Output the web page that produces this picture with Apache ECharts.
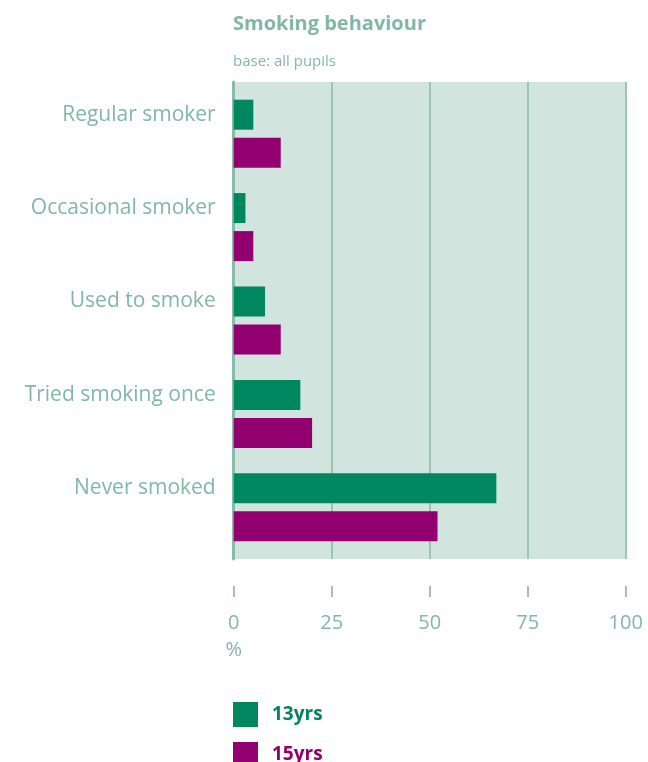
<!DOCTYPE html>
<html>
<head>
<meta charset="utf-8">
<script src="https://cdn.jsdelivr.net/npm/echarts@6/dist/echarts.min.js"></script>
<style>html,body{margin:0;padding:0;background:#fff;}#c{width:648px;height:762px;}</style>
</head>
<body>
<div id="c"></div>
<script>
const categories = ['Regular smoker', 'Occasional smoker', 'Used to smoke', 'Tried smoking once', 'Never smoked'];
const series13 = [5, 3, 8, 17, 67];
const series15 = [12, 5, 12, 20, 52];
const tickValues = [0, 25, 50, 75, 100];

const FONT = 'Open Sans';
const TXT = '#80b8a3';
const GREEN = '#00875f';
const PURPLE = '#920070';
const L = 233.7, R = 648 - 625.7;

const legendBase = {
  orient: 'vertical', left: 233,
  itemWidth: 25, itemHeight: 25, icon: 'rect', padding: 0,
  textStyle: { fontSize: 19, fontWeight: 'bold', fontFamily: FONT, padding: [0, 0, 0, 9] }
};

const chart = echarts.init(document.getElementById('c'));
chart.setOption({
  animation: false,
  textStyle: { fontFamily: FONT },
  title: {
    text: 'Smoking behaviour',
    subtext: 'base: all pupils',
    left: 228, top: 9,
    itemGap: 20,
    textStyle: { color: TXT, fontSize: 20, fontWeight: 'bold', fontFamily: FONT },
    subtextStyle: { color: TXT, fontSize: 15, fontFamily: FONT }
  },
  legend: [
    Object.assign({}, legendBase, { top: 702, data: [{ name: '13yrs', textStyle: { color: GREEN } }] }),
    Object.assign({}, legendBase, { top: 742, data: [{ name: '15yrs', textStyle: { color: PURPLE } }] })
  ],
  grid: [
    { left: L, right: R, top: 82, height: 477, show: true, backgroundColor: '#d1e4dd', borderWidth: 0 },
    { left: L, right: R, top: 87, height: 467 },
    { left: L, right: R, top: 596, height: 1 }
  ],
  xAxis: [
    { gridIndex: 0, type: 'value', min: 0, max: 100, interval: 25,
      axisLine: { show: false }, axisTick: { show: false }, axisLabel: { show: false },
      splitLine: { show: true, lineStyle: { color: '#9cc5b6', width: 2 } } },
    { gridIndex: 1, type: 'value', min: 0, max: 100, interval: 25, show: false },
    { gridIndex: 2, type: 'value', min: 0, max: 100, interval: 25, position: 'bottom',
      axisLine: { show: false },
      axisTick: { show: true, inside: true, length: 11, lineStyle: { color: '#9cc5b6', width: 2 } },
      splitLine: { show: false },
      axisLabel: { color: TXT, fontSize: 20, fontFamily: FONT, margin: 13, lineHeight: 27,
        formatter: v => v === 0 ? '0\n%' : String(v) } }
  ],
  yAxis: [
    { gridIndex: 0, type: 'value', min: 0, max: 1,
      axisLine: { show: true, onZero: false, lineStyle: { color: '#88bba8', width: 3 } },
      axisTick: { show: false }, axisLabel: { show: false }, splitLine: { show: false } },
    { gridIndex: 1, type: 'category', data: categories, inverse: true,
      axisLine: { show: false }, axisTick: { show: false },
      axisLabel: { color: TXT, fontSize: 21, fontFamily: FONT, margin: 18, lineHeight: 38,
        formatter: v => v + '\n ' } },
    { gridIndex: 2, type: 'value', show: false }
  ],
  series: [
    { name: '13yrs', type: 'bar', xAxisIndex: 1, yAxisIndex: 1, data: series13,
      itemStyle: { color: GREEN }, barWidth: 30, barGap: '26.7%' },
    { name: '15yrs', type: 'bar', xAxisIndex: 1, yAxisIndex: 1, data: series15,
      itemStyle: { color: PURPLE }, barWidth: 30, barGap: '26.7%' }
  ]
});
</script>
</body>
</html>
